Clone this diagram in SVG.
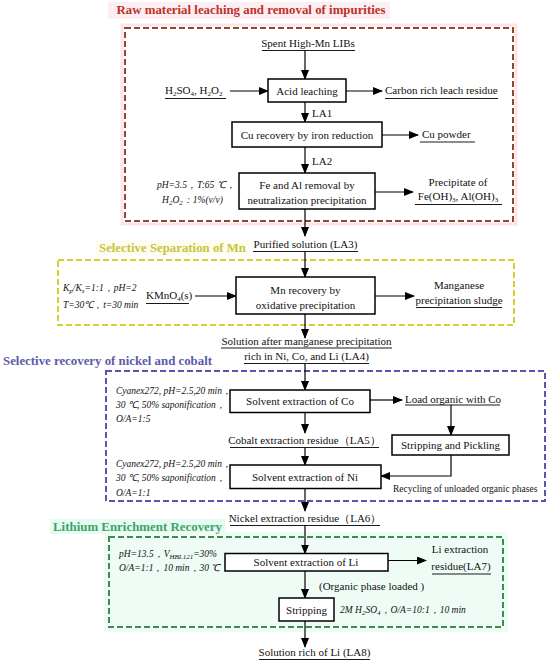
<svg xmlns="http://www.w3.org/2000/svg" width="550" height="661" viewBox="0 0 550 661" font-family="'Liberation Serif', 'Times New Roman', 'Noto Sans CJK SC', serif">
<defs>
<marker id="ah" markerUnits="userSpaceOnUse" markerWidth="10" markerHeight="8" refX="9" refY="4" orient="auto">
<path d="M0,0 L10,4 L0,8 Z" fill="#000"/>
</marker>
<style>
text{font-family:'Liberation Serif', serif;fill:#111;}
.t{font-size:11px;}
.c{text-anchor:middle;}
.p{font-size:9.5px;font-style:italic;}
.s{font-size:9.5px;}
.ttl{font-size:12.5px;font-weight:bold;}
.box{fill:#fff;stroke:#000;stroke-width:1.5;}
.ar{stroke:#000;stroke-width:1.2;fill:none;marker-end:url(#ah);}
.ul{stroke:#000;stroke-width:0.9;}
.dash{fill:none;stroke-width:2;stroke-dasharray:6,3;}
.sb{font-size:7px;}
</style>
</defs>
<rect width="550" height="661" fill="#fff"/>

<g id="frames">
<rect x="108" y="2" width="282" height="17" fill="#fdeef2"/>
<rect x="122" y="25" width="394" height="199" fill="none" stroke="#fde3ea" stroke-width="3"/>
<rect class="dash" x="125" y="28" width="388" height="193" stroke="#8b4a2b"/>
<text class="ttl" x="251" y="14" text-anchor="middle" style="fill:#c0302a" textLength="269" lengthAdjust="spacingAndGlyphs">Raw material leaching and removal of impurities</text>

<rect x="96" y="240" width="153" height="16" fill="#fdfdf2"/>
<rect class="dash" x="58" y="260" width="456" height="65" stroke="#d6cf2e" fill="#fffffa"/>
<text class="ttl" x="99" y="252" style="fill:#c8c43a" textLength="147" lengthAdjust="spacingAndGlyphs">Selective Separation of Mn</text>

<rect class="dash" x="106" y="371" width="439" height="130" stroke="#5656b0"/>
<text class="ttl" x="3" y="365" style="fill:#5b5ba8" textLength="209" lengthAdjust="spacingAndGlyphs">Selective recovery of nickel and cobalt</text>

<rect x="50" y="519" width="175" height="15" fill="#e8fbf2"/>
<rect x="104" y="532" width="404" height="100" fill="#effcf6"/>
<rect class="dash" x="109" y="537" width="394" height="90" stroke="#3e8c4e"/>
<text class="ttl" x="53" y="531" style="fill:#3ca464" textLength="169" lengthAdjust="spacingAndGlyphs">Lithium Enrichment Recovery</text>
</g>

<g id="connectors">
<line class="ar" x1="305" y1="51" x2="305" y2="79"/>
<line class="ar" x1="230" y1="91" x2="268" y2="91"/>
<line class="ar" x1="346" y1="91" x2="382" y2="91"/>
<line class="ar" x1="305" y1="102" x2="305" y2="122"/>
<line class="ar" x1="382" y1="135" x2="418" y2="135"/>
<line class="ar" x1="305" y1="147" x2="305" y2="173"/>
<line class="ar" x1="375" y1="192" x2="413" y2="192"/>
<line class="ar" x1="305" y1="209" x2="305" y2="236"/>
<line class="ar" x1="305" y1="252" x2="305" y2="277"/>
<line class="ar" x1="195" y1="296" x2="236" y2="296"/>
<line class="ar" x1="375" y1="296" x2="414" y2="296"/>
<line class="ar" x1="305" y1="314" x2="305" y2="338"/>
<line class="ar" x1="305" y1="364" x2="305" y2="390"/>
<line class="ar" x1="370" y1="400" x2="402" y2="400"/>
<line class="ar" x1="451" y1="405" x2="451" y2="435"/>
<line class="ar" x1="305" y1="412.5" x2="305" y2="433"/>
<line class="ar" x1="305" y1="448" x2="305" y2="465"/>
<path class="ar" d="M451,455 L451,476 L381,476"/>
<line class="ar" x1="305" y1="488.5" x2="305" y2="511"/>
<line class="ar" x1="305" y1="525" x2="305" y2="553.5"/>
<line class="ar" x1="388" y1="560.5" x2="426" y2="560.5"/>
<line class="ar" x1="305" y1="571" x2="305" y2="598"/>
<line class="ar" x1="305" y1="621" x2="305" y2="647"/>
</g>

<g id="spent">
<text class="t c" x="308" y="47">Spent High-Mn LIBs</text>
<line class="ul" x1="262" y1="50.5" x2="355" y2="50.5"/>
</g>
<g id="acid">
<rect class="box" x="268" y="79" width="78" height="23"/>
<text class="t c" x="307" y="94.5">Acid leaching</text>
</g>
<g id="reagent1">
<text class="t" x="165" y="94">H<tspan class="sb" dy="2">2</tspan><tspan dy="-2">SO</tspan><tspan class="sb" dy="2">4</tspan><tspan dy="-2">, H</tspan><tspan class="sb" dy="2">2</tspan><tspan dy="-2">O</tspan><tspan class="sb" dy="2">2</tspan></text>
<line class="ul" x1="165" y1="98.5" x2="226" y2="98.5"/>
</g>
<g id="carbon">
<text class="t" x="385" y="94">Carbon rich leach residue</text>
<line class="ul" x1="385" y1="98.5" x2="498" y2="98.5"/>
</g>
<g id="la1"><text class="t" x="312" y="117">LA1</text></g>
<g id="cu">
<rect class="box" x="232" y="122" width="150" height="25"/>
<text class="t c" x="307" y="138.5">Cu recovery by iron reduction</text>
</g>
<g id="cupowder">
<text class="t" x="422" y="138">Cu powder</text>
<line class="ul" x1="420" y1="142" x2="475" y2="142"/>
</g>
<g id="la2"><text class="t" x="312" y="165">LA2</text></g>
<g id="feal">
<rect class="box" x="239" y="173" width="136" height="36"/>
<text class="t c" x="307" y="189">Fe and Al removal by</text>
<text class="t c" x="307" y="204">neutralization precipitation</text>
</g>
<g id="cond1">
<text class="p" x="157" y="188">pH=3.5，T:65 ℃，</text>
<text class="p" x="162" y="203">H<tspan class="sb" dy="2">2</tspan><tspan dy="-2">O</tspan><tspan class="sb" dy="2">2</tspan><tspan dy="-2">：1%(v/v)</tspan></text>
</g>
<g id="precip">
<text class="t c" x="458" y="186">Precipitate of</text>
<text class="t c" x="458" y="200">Fe(OH)<tspan class="sb" dy="2">3</tspan><tspan dy="-2">, Al(OH)</tspan><tspan class="sb" dy="2">3</tspan></text>
<line class="ul" x1="415" y1="204.5" x2="502" y2="204.5"/>
</g>
<g id="la3">
<text class="t c" x="305.5" y="247.5">Purified solution (LA3)</text>
<line class="ul" x1="253" y1="251.5" x2="358" y2="251.5"/>
</g>
<g id="mn">
<rect class="box" x="236" y="277" width="139" height="37"/>
<text class="t c" x="305.5" y="293.5">Mn recovery by</text>
<text class="t c" x="305.5" y="308.5">oxidative precipitation</text>
</g>
<g id="cond2">
<text class="p" x="63" y="290.5">K<tspan class="sb" dy="2">p</tspan><tspan dy="-2">/K</tspan><tspan class="sb" dy="2">s</tspan><tspan dy="-2">=1:1，pH=2</tspan></text>
<text class="p" x="63" y="307.5">T=30℃，t=30 min</text>
</g>
<g id="kmno4">
<text class="t" x="146" y="299">KMnO<tspan class="sb" dy="2">4</tspan><tspan dy="-2">(s)</tspan></text>
<line class="ul" x1="146" y1="303.5" x2="189" y2="303.5"/>
</g>
<g id="mnsludge">
<text class="t c" x="459" y="289">Manganese</text>
<text class="t c" x="459" y="304">precipitation sludge</text>
<line class="ul" x1="416" y1="307.5" x2="502" y2="307.5"/>
</g>
<g id="la4">
<text class="t c" x="306.5" y="345">Solution after manganese precipitation</text>
<line class="ul" x1="221" y1="348" x2="392" y2="348"/>
<text class="t c" x="306.5" y="360">rich in Ni, Co, and Li (LA4)</text>
<line class="ul" x1="244" y1="363.5" x2="369" y2="363.5"/>
</g>
<g id="sxco">
<rect class="box" x="230" y="390" width="140" height="22.5"/>
<text class="t c" x="300" y="405">Solvent extraction of Co</text>
</g>
<g id="cond3">
<text class="p" x="116" y="393.5">Cyanex272, pH=2.5,20 min，</text>
<text class="p" x="116" y="407.5">30 ℃, 50% saponification，</text>
<text class="p" x="116" y="421.5">O/A=1:5</text>
</g>
<g id="loadco">
<text class="t" x="405" y="402.5">Load organic with Co</text>
<line class="ul" x1="405" y1="405" x2="500" y2="405"/>
</g>
<g id="strippick">
<rect class="box" x="392" y="435" width="117" height="20"/>
<text class="t c" x="450.5" y="449">Stripping and Pickling</text>
</g>
<g id="la5">
<text class="t c" x="304.5" y="444">Cobalt extraction residue（LA5）</text>
<line class="ul" x1="230" y1="447.5" x2="379" y2="447.5"/>
</g>
<g id="sxni">
<rect class="box" x="230" y="465" width="151" height="23.5"/>
<text class="t c" x="305" y="480.5">Solvent extraction of Ni</text>
</g>
<g id="recycle">
<text class="s" x="393" y="491.5">Recycling of unloaded organic phases</text>
</g>
<g id="cond4">
<text class="p" x="116" y="466.5">Cyanex272, pH=2.5,20 min，</text>
<text class="p" x="116" y="481">30 ℃, 50% saponification，</text>
<text class="p" x="116" y="496">O/A=1:1</text>
</g>
<g id="la6">
<text class="t c" x="305" y="522">Nickel extraction residue（LA6）</text>
<line class="ul" x1="230" y1="525.5" x2="380" y2="525.5"/>
</g>
<g id="sxli">
<rect class="box" x="225" y="553.5" width="163" height="17.5"/>
<text class="t c" x="306" y="566">Solvent extraction of Li</text>
</g>
<g id="cond5">
<text class="p" x="119" y="556.5">pH=13.5，V<tspan class="sb" dy="2">HBL121</tspan><tspan dy="-2">=30%</tspan></text>
<text class="p" x="119" y="571">O/A=1:1，10 min，30 ℃</text>
</g>
<g id="la7">
<text class="t c" x="460" y="552.5">Li extraction</text>
<text class="t c" x="461" y="570">residue(LA7)</text>
<line class="ul" x1="432" y1="574" x2="491" y2="574"/>
</g>
<g id="orgload"><text class="t" x="319" y="590">(Organic phase loaded )</text></g>
<g id="strip">
<rect class="box" x="279" y="598" width="55" height="23"/>
<text class="t c" x="306.5" y="613.5">Stripping</text>
</g>
<g id="cond6">
<text class="p" x="340" y="613">2M H<tspan class="sb" dy="2">2</tspan><tspan dy="-2">SO</tspan><tspan class="sb" dy="2">4</tspan><tspan dy="-2">，O/A=10:1，10 min</tspan></text>
</g>
<g id="la8">
<text class="t c" x="314.5" y="656">Solution rich of Li (LA8)</text>
<line class="ul" x1="259" y1="659.5" x2="370" y2="659.5"/>
</g>
</svg>
